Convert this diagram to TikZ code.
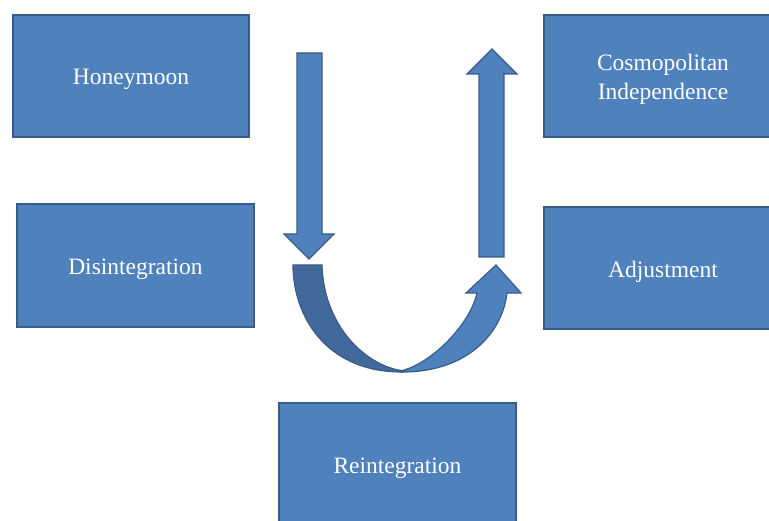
\documentclass[tikz,border=0pt]{standalone}
\usepackage{fontspec}
\setmainfont{Liberation Serif}
\definecolor{boxfill}{HTML}{4F81BD}
\definecolor{boxline}{HTML}{385D8A}
\definecolor{underside}{HTML}{41699B}
\begin{document}
\begin{tikzpicture}[x=1bp,y=-1bp,
  stage/.style={draw=boxline, fill=boxfill, line width=1.6bp, rectangle, inner sep=0pt},
  stagetext/.style={text=white, align=center, inner sep=0pt, yshift=-3.5bp,
    font=\fontsize{23.5bp}{29bp}\selectfont},
  blockarrow/.style={draw=boxline, fill=boxfill, line width=1.2bp, line join=miter}]
\clip (0,0) rectangle (769,521);
\fill[white] (0,0) rectangle (769,521);

% stage boxes
\node[stage, minimum width=236bp, minimum height=122bp,
  label={[stagetext]center:Honeymoon}] (honey) at (131,76) {};
\node[stage, minimum width=237bp, minimum height=123bp,
  label={[stagetext]center:Disintegration}] (disint) at (135.5,265.5) {};
\node[stage, minimum width=237bp, minimum height=124bp,
  label={[stagetext]center:Reintegration}] (reint) at (397.5,465) {};
\node[stage, minimum width=238bp, minimum height=122bp,
  label={[stagetext]center:Adjustment}] (adjust) at (663,268) {};
\node[stage, minimum width=238bp, minimum height=122bp,
  label={[stagetext]center:Cosmopolitan\\Independence}] (cosmo) at (663,76) {};

% downward block arrow
\draw[blockarrow] (297,53) -- (322,53) -- (322,234) -- (334,234) -- (309,259)
  -- (284,234) -- (297,234) -- cycle;

% upward block arrow
\draw[blockarrow] (479,257) -- (504,257) -- (504,74) -- (517,74) -- (492,49)
  -- (467,74) -- (479,74) -- cycle;

% curved U-turn arrow: rising front face
\draw[blockarrow] (400,371) .. controls (430,365) and (470,325) .. (477,293)
  -- (466,293) -- (496,265) -- (521,293) -- (507,293)
  .. controls (502,335) and (465,373) .. (400,372) -- cycle;

% curved U-turn arrow: darker underside
\draw[blockarrow, fill=underside] (293,265) -- (322,265)
  .. controls (324,330) and (370,368) .. (405,371)
  -- (402,372) .. controls (325,372) and (293,315) .. (293,265) -- cycle;
\end{tikzpicture}
\end{document}
